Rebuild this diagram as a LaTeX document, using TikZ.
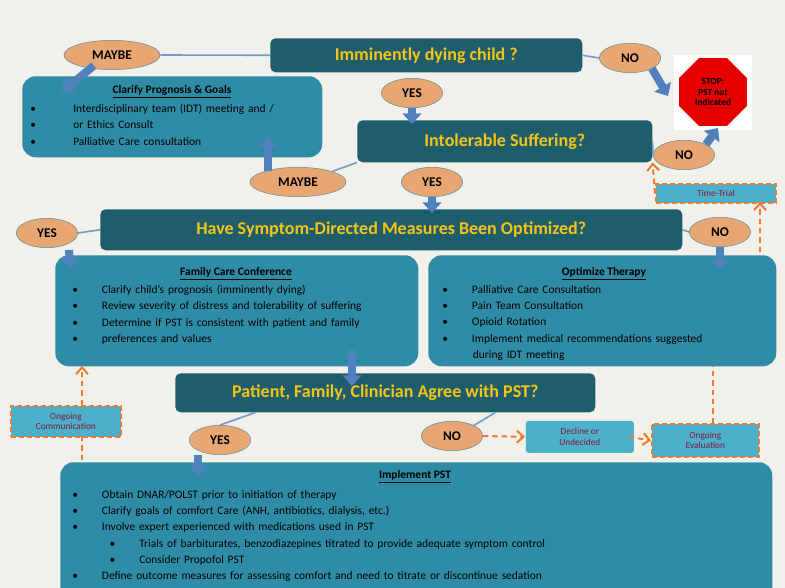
\documentclass[tikz,border=0pt]{standalone}
\usepackage{fontspec}
\setmainfont{Carlito}
\usetikzlibrary{arrows.meta,shapes.geometric,calc}
\definecolor{bg}{HTML}{F1F0EA}
\definecolor{dk}{HTML}{1E5E6C}
\definecolor{lt}{HTML}{2F8CA6}
\definecolor{ell}{HTML}{E8A772}
\definecolor{yel}{HTML}{F6C514}
\definecolor{blu}{HTML}{4F81BD}
\definecolor{org}{HTML}{EE7B30}
\definecolor{sky}{HTML}{4AB0CB}
\definecolor{wine}{HTML}{8A1538}
\begin{document}
\begin{tikzpicture}[x=0.75pt,y=-0.75pt,
 dkbox/.style={fill=dk,rounded corners=4pt,text=yel,font=\bfseries\fontsize{13.5}{15}\selectfont,anchor=north west,inner sep=0},
 ltbox/.style={fill=lt,rounded corners=10pt,anchor=north west,inner sep=0},
 el/.style={ellipse,draw=dk!70,fill=ell,font=\bfseries\fontsize{10}{12}\selectfont,minimum width=#1,minimum height=22pt,inner sep=0},
 el/.default=70pt,
 big/.style={draw=blu,line width=6pt,-{Triangle[width=14pt,length=8pt]}},
 thin/.style={draw=blu!80,line width=1.2pt},
 dsh/.style={draw=org,line width=1.5pt,dash pattern=on 4pt off 3pt,-{Straight Barb[length=5pt,width=9pt]}},
 dshl/.style={draw=org,line width=1.5pt,dash pattern=on 4pt off 3pt},
 small/.style={fill=sky,draw=org,line width=1.3pt,dash pattern=on 4pt off 2pt,text=wine,font=\fontsize{7}{8}\selectfont,align=center,inner sep=0,anchor=north west},
 body/.style={font=\fontsize{8.6}{12.2}\selectfont,align=left,anchor=north west,text width=#1,inner sep=0},
 hd/.style={font=\bfseries\fontsize{8.6}{10}\selectfont,anchor=north,inner sep=0},
 ]
\fill[bg] (0,0) rectangle (785,588);
\useasboundingbox (0,0) rectangle (785,588);
% ---- boxes
\node[dkbox,minimum width=312*0.75pt,minimum height=34*0.75pt] (q1) at (270,38) {Imminently dying child ?};
\node[ltbox,minimum width=300*0.75pt,minimum height=81*0.75pt] (clar) at (22,76) {};
\node[hd] at (172,85) {\underline{Clarify Prognosis \& Goals}};
\node[body=280pt] at (30,104) {\textbullet\hspace{28pt}Interdisciplinary team (IDT) meeting and /\\ \textbullet\hspace{28pt}or Ethics Consult\\ \textbullet\hspace{28pt}Palliative Care consultation};
\node[dkbox,minimum width=295*0.75pt,minimum height=42*0.75pt] (q2) at (357,120) {Intolerable Suffering?};
\fill[white] (674,55) rectangle (752,130);
\node[regular polygon,regular polygon sides=8,fill=red!90!black,draw=white,line width=1.5pt,minimum size=76*0.75pt,inner sep=0,align=center,font=\bfseries\fontsize{7}{8}\selectfont] (stop) at (713,92) {STOP:\\PST not\\Indicated};
\node[dkbox,minimum width=582*0.75pt,minimum height=41*0.75pt] (q3) at (100,209) {Have Symptom-Directed Measures Been Optimized?};
\node[ltbox,minimum width=363*0.75pt,minimum height=111*0.75pt] (fam) at (55,255) {};
\node[hd] at (236,267) {\underline{Family Care Conference}};
\node[body=350pt] at (72,285) {\textbullet\hspace{18pt}Clarify child's prognosis (imminently dying)\\ \textbullet\hspace{18pt}Review severity of distress and tolerability of suffering\\ \textbullet\hspace{18pt}Determine if PST is consistent with patient and family\\ \textbullet\hspace{18pt}preferences and  values};
\node[ltbox,minimum width=348*0.75pt,minimum height=111*0.75pt] (opt) at (428,255) {};
\node[hd] at (604,267) {\underline{Optimize Therapy}};
\node[body=330pt] at (442,285) {\textbullet\hspace{18pt}Palliative Care Consultation\\ \textbullet\hspace{18pt}Pain Team Consultation\\ \textbullet\hspace{18pt}Opioid Rotation\\ \textbullet\hspace{18pt}Implement medical recommendations  suggested\\ \hspace*{23pt}during IDT meeting};
\node[dkbox,minimum width=420*0.75pt,minimum height=39*0.75pt] (q4) at (175,373) {Patient, Family, Clinician Agree with PST?};
\node[ltbox,minimum width=712*0.75pt,minimum height=140*0.75pt] (imp) at (60,462) {};
\node[hd] at (415,470) {\underline{Implement PST}};
\node[body=540pt] at (72,490) {\textbullet\hspace{18pt}Obtain DNAR/POLST prior to initiation of therapy\\ \textbullet\hspace{18pt}Clarify goals of comfort Care (ANH, antibiotics, dialysis, etc.)\\ \textbullet\hspace{18pt}Involve expert experienced with medications used in PST\\ \hspace*{28pt}\textbullet\hspace{18pt}Trials of barbiturates, benzodiazepines titrated to provide adequate symptom control\\ \hspace*{28pt}\textbullet\hspace{18pt}Consider Propofol PST\\ \textbullet\hspace{18pt}Define outcome measures for assessing comfort and need to titrate or discontinue sedation};
% small dashed boxes
\node[small,minimum width=120*0.75pt,minimum height=19*0.75pt] (tt) at (655,183) {Time-Trial};
\node[small,minimum width=110*0.75pt,minimum height=31*0.75pt] (oc) at (10,405) {Ongoing\\Communication};
\node[small,draw=none,rounded corners=2pt,minimum width=108*0.75pt,minimum height=32*0.75pt] (dec) at (525,420) {Decline or\\Undecided};
\node[small,minimum width=107*0.75pt,minimum height=33*0.75pt] (oe) at (651,423) {Ongoing\\Evaluation};
% ellipses
\node[el=72pt] (m1) at (112,55) {MAYBE};
\node[el=46pt] (n1) at (630,58) {NO};
\node[el=46pt] (y1) at (412,93) {YES};
\node[el=46pt] (n2) at (684,155) {NO};
\node[el=72pt] (m2) at (298,182) {MAYBE};
\node[el=46pt] (y2) at (432,182) {YES};
\node[el=46pt] (y3) at (47,233) {YES};
\node[el=46pt] (n3) at (720,232) {NO};
\node[el=46pt] (y4) at (220,440) {YES};
\node[el=46pt] (n4) at (452,436) {NO};
% thin connectors
\draw[thin] (m1.east) -- (q1.west);
\draw[thin] (q1.east) -- (n1.west);
\draw[thin] (m2.north east) -- (q2.south west);
\draw[thin] (q2.east) -- (n2.west);
\draw[thin] (y3.east) -- (q3.west);
\draw[thin] (q3.east) -- (n3.west);
\draw[thin] (q4.south) ++(-130,0) -- (y4.north);
\draw[thin] (q4.south) ++(110,0) -- (n4.north east);
% big arrows
\coordinate (a1) at (62,92);
\draw[big] (m1.south west) ++(16,0) -- (a1);
\draw[big] (y1.south) -- ($(y1.south |- q2.north)+(0,4)$);
\coordinate (a2) at (268,136);
\draw[big] (m2.north) ++(-30,4) -- (a2);
\draw[big] (y2.south) -- ($(y2.south |- q3.north)+(0,4)$);
\draw[big] (y3.south) ++(22,2) -- (70,268);
\draw[big] (n3.south) -- (720,270);
\draw[big] (352,350) -- (352,386);
\draw[big] (y4.south) ++(-22,0) -- (198,476);
\draw[big] (n1.south east) -- (668,96);
\draw[big] (n2.north east) -- (718,128);
% dashed
\draw[dsh] (tt.west) -- (q2.south east);
\draw[dsh] (760,252) -- (760,202);
\draw[dsh] (82,405) -- (82,366);
\draw[dsh] (n4.east) -- (dec.west);
\draw[dsh] (dec.east) ++(-6,0) -- (oe.west);
\draw[dshl] (713,423) -- (713,366);
\draw[dshl] (82,436) -- (82,462);
\end{tikzpicture}
\end{document}
